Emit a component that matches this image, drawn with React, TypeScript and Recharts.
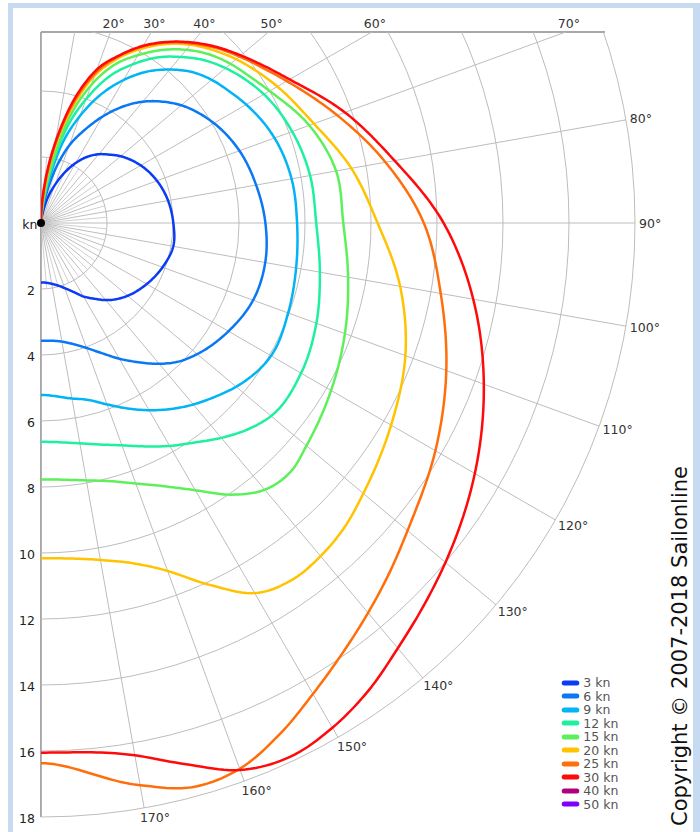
import React from 'react';
import { RadarChart, Radar, PolarGrid, PolarAngleAxis, PolarRadiusAxis, Legend, Curve } from 'recharts';

// ---------- data ----------
const ANGLES = [0, 5, 10, 15, 20, 25, 30, 35, 40, 45, 50, 55, 60, 70, 80, 90, 100, 110, 120, 130, 135, 140, 145, 150, 155, 160, 165, 170, 180];

const KN3 = [0, 0.1, 0.35, 0.8, 1.22, 1.68, 2.1, 2.45, 2.72, 2.93, 3.15, 3.33, 3.49, 3.74, 3.91, 4.01, 4.07, 3.92, 3.7, 3.43, 3.26, 3.05, 2.8, 2.57, 2.3, 2.1, 1.96, 1.87, 1.8];
const KN6 = [0, 0.3, 0.85, 1.7, 2.5, 3.1, 3.72, 4.3, 4.8, 5.2, 5.55, 5.82, 6.05, 6.4, 6.62, 6.8, 6.9, 6.84, 6.56, 6.18, 5.93, 5.57, 5.15, 4.75, 4.35, 4.03, 3.8, 3.65, 3.57];
const KN9 = [0, 0.4, 1.2, 2.5, 3.45, 4.3, 5.0, 5.6, 6.07, 6.47, 6.75, 6.96, 7.18, 7.53, 7.71, 7.76, 7.85, 7.97, 8.05, 7.72, 7.45, 7.18, 6.88, 6.55, 6.2, 5.85, 5.55, 5.4, 5.21];
const KN12 = [0, 0.5, 1.5, 2.95, 4.0, 4.9, 5.55, 6.12, 6.57, 6.98, 7.3, 7.57, 7.8, 8.1, 8.28, 8.34, 8.58, 8.88, 9.1, 9.1, 8.85, 8.5, 8.12, 7.8, 7.47, 7.17, 6.95, 6.78, 6.63];
const KN15 = [0, 0.55, 1.7, 3.3, 4.45, 5.3, 5.87, 6.4, 6.85, 7.22, 7.5, 7.73, 8.0, 8.65, 9.08, 9.16, 9.45, 9.8, 10.15, 10.5, 10.68, 10.55, 10.05, 9.35, 8.8, 8.4, 8.1, 7.92, 7.77];
const KN20 = [0, 0.8, 2.25, 3.6, 4.75, 5.5, 6.1, 6.62, 7.05, 7.4, 7.72, 8.0, 8.27, 8.8, 9.55, 10.2, 11.05, 11.75, 12.25, 12.75, 13.02, 13.18, 13.22, 12.95, 12.1, 11.22, 10.67, 10.37, 10.16];
const KN25 = [0, 0.95, 2.35, 3.75, 4.85, 5.58, 6.18, 6.68, 7.1, 7.5, 7.85, 8.2, 8.6, 9.55, 10.6, 11.6, 12.3, 13.07, 13.8, 14.5, 14.95, 15.42, 15.92, 16.48, 17.1, 17.6, 17.7, 17.3, 16.37];
const KN30 = [0, 1.1, 2.45, 3.87, 4.95, 5.6, 6.2, 6.7, 7.14, 7.54, 7.9, 8.28, 8.7, 9.8, 10.88, 12.2, 13.3, 14.28, 15.18, 16.0, 16.4, 16.82, 17.3, 17.66, 17.85, 17.64, 16.98, 16.38, 16.05];

const SERIES_KEYS = ['s3', 's6', 's9', 's12', 's15', 's20', 's25', 's30', 's40', 's50'];
const SERIES_NAMES = ['3 kn', '6 kn', '9 kn', '12 kn', '15 kn', '20 kn', '25 kn', '30 kn', '40 kn', '50 kn'];
const SERIES_COLORS = ['#0a3cf5', '#0a78f5', '#00b4f5', '#1ef0a0', '#5ef05a', '#ffc300', '#ff6e0a', '#ff0a0a', '#b0007e', '#8000ff'];

const GRID_ANGLES = [0, 10, 20, 30, 40, 50, 60, 70, 80, 90, 100, 110, 120, 130, 140, 150, 160, 170, 180];
const MINOR_ANGLES = [5, 15, 25, 35, 45, 55, 65, 75, 85, 95, 105, 115, 125, 135, 145, 155, 165, 175];
const LABEL_ANGLES = [20, 30, 40, 50, 60, 70, 80, 90, 100, 110, 120, 130, 140, 150, 160, 170];
const RADIUS_TICKS = [0, 2, 4, 6, 8, 10, 12, 14, 16, 18];

const DATA = ANGLES.map((a, i) => ({
  angle: a,
  s3: KN3[i],
  s6: KN6[i],
  s9: KN9[i],
  s12: KN12[i],
  s15: KN15[i],
  s20: KN20[i],
  s25: KN25[i],
  s30: KN30[i],
}));

// ---------- layout ----------
const W = 700;
const H = 832;
const CX = 41;
const CY = 223;
const R = 594;
const TOP = 32;
const FONT = '"DejaVu Sans", Verdana, sans-serif';
const RAD = Math.PI / 180;

// smooth the library-computed polar points with a cubic Hermite spline in (angle, radius) space
function SmoothShape(props: any) {
  const raw = (props.points || []).filter(
    (p: any) => p && p.value != null && Number.isFinite(p.radius) && Number.isFinite(p.angle)
  );
  if (raw.length < 2) return <g />;
  const cx = raw[0].cx;
  const cy = raw[0].cy;
  const th = raw.map((p: any) => p.angle);
  const rr = raw.map((p: any) => p.radius);
  const n = raw.length;
  const m: number[] = new Array(n).fill(0);
  for (let i = 0; i < n; i++) {
    if (i === 0) m[i] = (rr[1] - rr[0]) / (th[1] - th[0]);
    else if (i === n - 1) m[i] = 0;
    else {
      const h0 = th[i] - th[i - 1];
      const h1 = th[i + 1] - th[i];
      const d0 = (rr[i] - rr[i - 1]) / h0;
      const d1 = (rr[i + 1] - rr[i]) / h1;
      m[i] = (d0 * h1 + d1 * h0) / (h0 + h1);
    }
  }
  const toXY = (r: number, a: number) => ({
    x: cx + Math.cos(-RAD * a) * r,
    y: cy + Math.sin(-RAD * a) * r,
  });
  const out: { x: number; y: number }[] = [];
  for (let i = 0; i < n - 1; i++) {
    const h = th[i + 1] - th[i];
    const steps = Math.max(2, Math.ceil(Math.abs(h) * 2));
    for (let s = 0; s < steps; s++) {
      const t = s / steps;
      const t2 = t * t;
      const t3 = t2 * t;
      const r =
        (2 * t3 - 3 * t2 + 1) * rr[i] +
        (t3 - 2 * t2 + t) * h * m[i] +
        (-2 * t3 + 3 * t2) * rr[i + 1] +
        (t3 - t2) * h * m[i + 1];
      out.push(toXY(Math.max(0, r), th[i] + t * h));
    }
  }
  out.push(toXY(rr[n - 1], th[n - 1]));
  return (
    <Curve
      type="linear"
      points={out}
      stroke={props.color}
      strokeWidth={2.5}
      fill="none"
      strokeLinejoin="round"
      strokeLinecap="round"
    />
  );
}

function AngleTick(props: any) {
  const { payload } = props;
  const c = ((payload && payload.coordinate) || 0) * RAD;
  const ux = Math.cos(c);
  const uy = -Math.sin(c);
  let tx = CX + ux * (R + 10) - 6;
  let ty = CY + uy * (R + 10);
  if (ty < TOP) {
    const t = (CY - TOP) / -uy;
    tx = CX + ux * t - 8;
    ty = 23;
  }
  return (
    <text x={tx} y={ty} textAnchor="start" dominantBaseline="central" fontFamily={FONT} fontSize={12.5} fill="#333">
      {`${payload.value}°`}
    </text>
  );
}

function RadiusTick(props: any) {
  const { x, y, payload } = props;
  const v = payload.value;
  return (
    <text
      x={v === 0 ? x - 3.5 : x - 6}
      y={y + 1}
      textAnchor="end"
      dominantBaseline="central"
      fontFamily={FONT}
      fontSize={12.5}
      fill="#222"
    >
      {v === 0 ? 'kn' : String(v)}
    </text>
  );
}

function LegendContent(props: any) {
  const items = [...(props.payload || [])].sort(
    (a: any, b: any) => SERIES_NAMES.indexOf(String(a.value)) - SERIES_NAMES.indexOf(String(b.value))
  );
  return (
    <div style={{ fontFamily: FONT, fontSize: 12.5, color: '#555' }}>
      {items.map((e: any) => (
        <div key={String(e.value)} style={{ display: 'flex', alignItems: 'center', height: 13.5 }}>
          <svg width={22} height={8} style={{ display: 'block', flex: 'none' }}>
            <line x1={4.2} x2={16.8} y1={4} y2={4} stroke={e.color} strokeWidth={5} strokeLinecap="round" />
          </svg>
          <span style={{ marginLeft: 1.3, lineHeight: '13.5px', whiteSpace: 'nowrap' }}>{e.value}</span>
        </div>
      ))}
    </div>
  );
}

const abs = (left: number, top: number): React.CSSProperties => ({ position: 'absolute', left, top });
const NO_MARGIN = { top: 0, right: 0, bottom: 0, left: 0 };

export default function App() {
  return (
    <div style={{ position: 'absolute', left: 0, top: 0, width: W, height: H, overflow: 'hidden', background: '#fff' }}>
      {/* page frame */}
      <div
        style={{
          position: 'absolute',
          left: 8,
          top: 3,
          width: 692,
          height: 829,
          boxSizing: 'border-box',
          borderLeft: '5px solid #c6daf1',
          borderTop: '5px solid #c6daf1',
          borderRight: '7px solid #c6daf1',
        }}
      />
      {/* plot frame lines */}
      <svg width={W} height={H} style={{ ...abs(0, 0), display: 'block' }}>
        <line x1={CX} y1={TOP} x2={605} y2={TOP} stroke="#8a8a8a" strokeWidth={1.5} />
        <line x1={CX} y1={TOP} x2={CX} y2={CY + R} stroke="#8a8a8a" strokeWidth={1.5} />
      </svg>

      {/* clipped plot area */}
      <div style={{ position: 'absolute', left: CX, top: TOP, width: 600, height: CY + R - TOP + 1, overflow: 'hidden' }}>
        {/* minor radial lines near the centre */}
        <div style={abs(-CX, -TOP)}>
          <RadarChart width={W} height={H} data={DATA} cx={CX} cy={CY} innerRadius={0} outerRadius={66} startAngle={90} endAngle={-90} margin={NO_MARGIN}>
            <PolarAngleAxis type="number" dataKey="angle" domain={[0, 180]} ticks={MINOR_ANGLES} tick={false} axisLine={false} tickLine={false} />
            <PolarRadiusAxis type="number" domain={[0, 2]} ticks={[0]} allowDataOverflow tick={false} axisLine={false} />
            <PolarGrid gridType="circle" stroke="#c4c4c4" strokeWidth={0.8} />
          </RadarChart>
        </div>
        <div style={abs(-CX, -TOP)}>
          <RadarChart width={W} height={H} data={DATA} cx={CX} cy={CY} innerRadius={0} outerRadius={R} startAngle={90} endAngle={-90} margin={NO_MARGIN}>
            <PolarAngleAxis type="number" dataKey="angle" domain={[0, 180]} ticks={GRID_ANGLES} tickCount={19} tick={false} axisLine={false} tickLine={false} />
            <PolarRadiusAxis type="number" domain={[0, 18]} ticks={RADIUS_TICKS} tickCount={10} allowDataOverflow tick={false} axisLine={false} />
            <PolarGrid gridType="circle" stroke="#bdbdbd" strokeWidth={1} />
            {SERIES_KEYS.map((k, i) => (
              <Radar
                key={k}
                dataKey={k}
                name={SERIES_NAMES[i]}
                stroke={SERIES_COLORS[i]}
                fill="none"
                fillOpacity={0}
                dot={false}
                isAnimationActive={false}
                shape={(p: any) => <SmoothShape {...p} color={SERIES_COLORS[i]} />}
              />
            ))}
            <Legend
              layout="vertical"
              align="right"
              verticalAlign="top"
              itemSorter={null as any}
              content={<LegendContent />}
              wrapperStyle={{ left: 560, top: 676, width: 70 }}
            />
          </RadarChart>
        </div>
      </div>

      {/* axis labels */}
      <div style={{ ...abs(0, 0), pointerEvents: 'none' }}>
        <RadarChart width={W} height={H} data={DATA} cx={CX} cy={CY} innerRadius={0} outerRadius={R} startAngle={90} endAngle={-90} margin={NO_MARGIN}>
          <PolarAngleAxis type="number" dataKey="angle" domain={[0, 180]} ticks={LABEL_ANGLES} tick={<AngleTick />} axisLine={false} tickLine={false} />
          <PolarRadiusAxis type="number" angle={-90} domain={[0, 18]} ticks={RADIUS_TICKS} tickCount={10} allowDataOverflow tick={<RadiusTick />} axisLine={false} />
          <Radar dataKey="s30" legendType="none" isAnimationActive={false} dot={false} shape={() => <g />} />
        </RadarChart>
      </div>

      {/* centre dot & copyright */}
      <svg width={W} height={H} style={{ ...abs(0, 0), display: 'block', pointerEvents: 'none' }}>
        <circle cx={CX} cy={CY} r={4} fill="#000" />
        <text transform="translate(686.5, 646) rotate(-90)" textAnchor="middle" fontFamily={FONT} fontSize={21} fill="#111">
          Copyright © 2007-2018 Sailonline
        </text>
      </svg>
    </div>
  );
}
